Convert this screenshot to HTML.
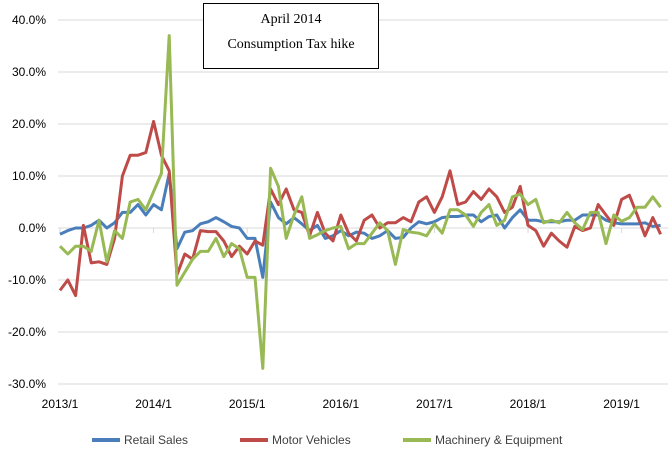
<!DOCTYPE html>
<html><head><meta charset="utf-8"><style>
body{margin:0;background:#fff;}
svg{display:block;font-family:"Liberation Sans",sans-serif;}
</style></head><body>
<svg width="672" height="454" viewBox="0 0 672 454">
<g id="grid"></g>
<g id="yaxis"></g>
<g id="xaxis"></g>
<g id="series"></g>
<g>
<rect x="203.5" y="3.5" width="175" height="65" fill="#fff" stroke="#000" stroke-width="1"/>
<text x="291" y="23" text-anchor="middle" font-family="Liberation Serif,serif" font-size="14">April 2014</text>
<text x="291" y="48" text-anchor="middle" font-family="Liberation Serif,serif" font-size="14">Consumption Tax hike</text>
</g>
<g>
<g><line x1="92" y1="440" x2="120" y2="440" stroke="#4a7ebb" stroke-width="4"/><text x="124" y="444" font-size="12" fill="#404040">Retail Sales</text></g>
<g><line x1="240" y1="440" x2="268" y2="440" stroke="#be4b48" stroke-width="4"/><text x="272" y="444" font-size="12" fill="#404040">Motor Vehicles</text></g>
<g><line x1="403" y1="440" x2="431" y2="440" stroke="#98b954" stroke-width="4"/><text x="435" y="444" font-size="12" fill="#404040">Machinery &amp; Equipment</text></g>
</g>
</svg>
<script>
const yTicks=[40,30,20,10,0,-10,-20,-30];
const yTickLabels=["40.0%","30.0%","20.0%","10.0%","0.0%","-10.0%","-20.0%","-30.0%"];
const xTickLabels=["2013/1","2014/1","2015/1","2016/1","2017/1","2018/1","2019/1"];
const retailSales=[-1.2,-0.5,0,0,0.5,1.5,0,1,3,3,4.5,2.5,4.5,3.5,10.5,-4,-0.8,-0.5,0.8,1.2,2,1.2,0.3,0,-2,-2,-9.5,5,2,0.8,2,0.8,-0.5,0.5,-2,-1.5,-0.5,-1.5,-0.8,-1,-2,-1.5,-0.5,-2,-1.8,0,1.2,0.8,1.2,2,2.2,2.2,2.5,2.5,1.2,2.2,2.5,0,2,3.5,1.5,1.5,1.2,1.2,1.2,1.5,1.5,2.5,2.5,2.5,1.5,1,0.8,0.8,0.8,1,0.3,0.5];
const motorVehicles=[-12,-10,-13,0.5,-6.7,-6.5,-7,-2,10,14,14,14.5,20.5,14,11,-9,-5,-6,-0.5,-0.7,-0.7,-2.5,-5.5,-3.5,-5,-2.5,-3.3,7.5,4.5,7.5,3.5,3,-1.5,3,-1,-2.5,2.5,-1,-2.5,1.5,2.5,0,1,1,2,1.2,5,6,3,6,11,4.5,5,7,5.5,7.5,6,3,4,8,0.5,-0.5,-3.5,-1,-2.5,-3.7,0.3,-0.5,0,4.5,2.5,0.5,5.5,6.3,2.5,-1.5,2,-1.2];
const machinery=[-3.5,-5,-3.5,-3.5,-4.5,1.5,-6.5,-0.5,-2,5,5.5,3.5,7,10.5,37,-11,-8.5,-6,-4.5,-4.5,-2,-5.5,-3,-4,-9.5,-9.5,-27,11.5,8,-2,2.5,6,-2,-1.3,-0.5,0,0.3,-4,-3,-3,-1,1,-0.5,-7,-0.3,-0.8,-1,-1.5,0.8,-1,3.5,3.5,2.5,0.3,3,4.5,0.5,1.5,6,6.5,4.5,5.5,1,1.5,1,3,1,-0.3,3,3,-3,2.5,1.3,2,4,4,6,4];

const NS="http://www.w3.org/2000/svg";
const X0=60,MONTH=7.8,Y0=228,PPP=5.2,XL=58,XR=668;
function xs(i){return X0+i*MONTH;}
function ys(v){return Y0-v*PPP;}
function mk(tag,attrs,parent){const e=document.createElementNS(NS,tag);for(const k in attrs)e.setAttribute(k,attrs[k]);parent.appendChild(e);return e;}
const grid=document.getElementById('grid'),yax=document.getElementById('yaxis'),xax=document.getElementById('xaxis'),ser=document.getElementById('series');
yTicks.forEach((t,i)=>{
  if(t!==0){const g=mk('line',{x1:XL,x2:XR,y1:ys(t),y2:ys(t),stroke:'#d9d9d9','stroke-width':1},grid);
  
  }
  const tx=mk('text',{x:46,y:ys(t)+4,'text-anchor':'end','font-size':12,fill:'#000'},yax);
  tx.textContent=yTickLabels[i];
  
  
});
const ax=mk('line',{x1:XL,x2:XR,y1:Y0,y2:Y0,stroke:'#d9d9d9','stroke-width':1},xax);


xTickLabels.forEach((l,i)=>{
  const x=xs(i*12);
  const tk=mk('line',{x1:x,x2:x,y1:Y0,y2:Y0+5,stroke:'#d9d9d9'},xax);
  
  
  const tx=mk('text',{x:x,y:408,'text-anchor':'middle','font-size':12,fill:'#000'},xax);
  tx.textContent=l;
  
  
});
[[retailSales,'#4a7ebb','retail-sales-line'],[motorVehicles,'#be4b48','motor-vehicles-line'],[machinery,'#98b954','machinery-line']].forEach(([d,c,n])=>{
  const p=mk('polyline',{points:d.map((v,i)=>xs(i)+','+ys(v)).join(' '),fill:'none',stroke:c,'stroke-width':3,'stroke-linejoin':'round'},ser);
  
  
});
</script>
</body></html>
